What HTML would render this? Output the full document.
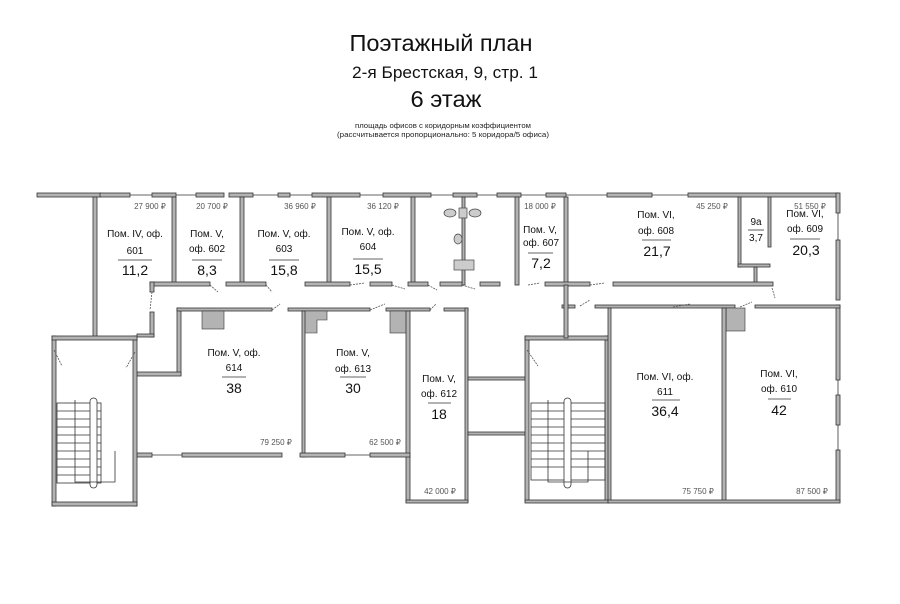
<!DOCTYPE html>
<html><head><meta charset="utf-8"><style>
html,body{margin:0;padding:0;background:#fff;}
svg{display:block;font-family:"Liberation Sans","DejaVu Sans",sans-serif;}
.w{fill:#b3b3b3;stroke:#333;stroke-width:0.8}
.b{fill:#b3b3b3;stroke:#333;stroke-width:0.6}
.t{font-size:10px;fill:#111;text-anchor:middle}
.n{font-size:14px;fill:#111;text-anchor:middle}
.p{font-size:8px;fill:#555;text-anchor:middle}
.d{stroke:#555;stroke-width:0.8;stroke-dasharray:2 1;fill:none}
.s{stroke:#333;stroke-width:0.8;fill:none}
</style></head><body>
<svg width="900" height="604" viewBox="0 0 900 604">
<text x="441" y="51" font-size="23" text-anchor="middle" fill="#111" textLength="183" lengthAdjust="spacingAndGlyphs">Поэтажный план</text>
<text x="445" y="78" font-size="16.5" text-anchor="middle" fill="#111" textLength="186" lengthAdjust="spacingAndGlyphs">2-я Брестская, 9, стр. 1</text>
<text x="446" y="107" font-size="23" text-anchor="middle" fill="#111" textLength="71" lengthAdjust="spacingAndGlyphs">6 этаж</text>
<text x="443" y="128" font-size="7.5" text-anchor="middle" fill="#222" textLength="176" lengthAdjust="spacingAndGlyphs">площадь офисов с коридорным коэффициентом</text>
<text x="443" y="137" font-size="7.5" text-anchor="middle" fill="#222" textLength="212" lengthAdjust="spacingAndGlyphs">(рассчитывается пропорционально: 5 коридора/5 офиса)</text>

<!-- top exterior wall segments -->
<rect class="w" x="37" y="193" width="64" height="4"/>
<rect class="w" x="100" y="193" width="30" height="4"/>
<rect class="w" x="152" y="193" width="24" height="4"/>
<rect class="w" x="196" y="193" width="28" height="4"/>
<rect class="w" x="229" y="193" width="24" height="4"/>
<rect class="w" x="278" y="193" width="12" height="4"/>
<rect class="w" x="312" y="193" width="48" height="4"/>
<rect class="w" x="383" y="193" width="48" height="4"/>
<rect class="w" x="453" y="193" width="24" height="4"/>
<rect class="w" x="497" y="193" width="24" height="4"/>
<rect class="w" x="546" y="193" width="20" height="4"/>
<rect class="w" x="607" y="193" width="45" height="4"/>
<rect class="w" x="688" y="193" width="150" height="4"/>
<line class="s" x1="130" y1="195" x2="152" y2="195"/><line class="s" x1="176" y1="195" x2="196" y2="195"/>
<line class="s" x1="253" y1="195" x2="278" y2="195"/><line class="s" x1="290" y1="195" x2="312" y2="195"/>
<line class="s" x1="360" y1="195" x2="383" y2="195"/><line class="s" x1="431" y1="195" x2="453" y2="195"/>
<line class="s" x1="477" y1="195" x2="497" y2="195"/><line class="s" x1="521" y1="195" x2="546" y2="195"/>
<line class="s" x1="566" y1="195" x2="607" y2="195"/><line class="s" x1="652" y1="195" x2="688" y2="195"/>
<!-- right exterior -->
<rect class="w" x="836" y="193" width="4" height="20"/>
<rect class="w" x="836" y="240" width="4" height="60"/>
<rect class="w" x="836" y="305" width="4" height="75"/>
<rect class="w" x="836" y="395" width="4" height="30"/>
<rect class="w" x="836" y="450" width="4" height="52"/>
<line class="s" x1="838" y1="213" x2="838" y2="240"/><line class="s" x1="838" y1="380" x2="838" y2="395"/><line class="s" x1="838" y1="425" x2="838" y2="450"/>

<!-- top room dividers -->
<rect class="w" x="93" y="197" width="4" height="140"/>
<rect class="w" x="172" y="197" width="4" height="88"/>
<rect class="w" x="240" y="197" width="4" height="88"/>
<rect class="w" x="327" y="197" width="4" height="88"/>
<rect class="w" x="411" y="197" width="4" height="88"/>
<rect class="w" x="462" y="197" width="3" height="88"/>
<rect class="w" x="515" y="197" width="4" height="88"/>
<rect class="w" x="564" y="197" width="4" height="88"/>
<rect class="w" x="738" y="197" width="3" height="70"/>
<rect class="w" x="738" y="264" width="32" height="3"/>
<rect class="w" x="768" y="197" width="3" height="50"/>
<rect class="w" x="754" y="267" width="3" height="17"/>
<!-- top rooms bottom wall -->
<rect class="w" x="150" y="282" width="60" height="4"/>
<rect class="w" x="226" y="282" width="40" height="4"/>
<rect class="w" x="305" y="282" width="45" height="4"/>
<rect class="w" x="370" y="282" width="22" height="4"/>
<rect class="w" x="408" y="282" width="20" height="4"/>
<rect class="w" x="440" y="282" width="22" height="4"/>
<rect class="w" x="480" y="282" width="20" height="4"/>
<rect class="w" x="545" y="282" width="45" height="4"/>
<rect class="w" x="613" y="282" width="160" height="4"/>
<line class="d" x1="210" y1="285" x2="218" y2="292"/><line class="d" x1="266" y1="285" x2="272" y2="292"/>
<line class="d" x1="350" y1="285" x2="365" y2="283"/><line class="d" x1="392" y1="285" x2="405" y2="289"/>
<line class="d" x1="428" y1="285" x2="437" y2="290"/><line class="d" x1="462" y1="285" x2="475" y2="289"/>
<line class="d" x1="528" y1="285" x2="540" y2="283"/><line class="d" x1="590" y1="285" x2="605" y2="283"/>
<line class="d" x1="772" y1="288" x2="775" y2="298"/>
<!-- left corridor jog -->
<rect class="w" x="150" y="282" width="4" height="10"/>
<rect class="w" x="150" y="312" width="4" height="25"/>
<rect class="w" x="137" y="334" width="17" height="3"/>
<line class="d" x1="152" y1="292" x2="150" y2="310"/>
<!-- corridor lower wall -->
<rect class="w" x="177" y="308" width="4" height="67"/>
<rect class="w" x="137" y="372" width="44" height="4"/>
<rect class="w" x="177" y="308" width="95" height="3"/>
<rect class="w" x="288" y="308" width="82" height="3"/>
<rect class="w" x="386" y="308" width="44" height="3"/>
<rect class="w" x="444" y="308" width="24" height="3"/>
<rect class="w" x="562" y="305" width="13" height="3"/>
<rect class="w" x="595" y="305" width="140" height="3"/>
<rect class="w" x="755" y="305" width="85" height="3"/>
<line class="d" x1="272" y1="310" x2="280" y2="304"/><line class="d" x1="370" y1="310" x2="385" y2="304"/>
<line class="d" x1="430" y1="310" x2="436" y2="304"/><line class="d" x1="580" y1="306" x2="590" y2="300"/>
<line class="d" x1="673" y1="307" x2="690" y2="304"/><line class="d" x1="740" y1="307" x2="752" y2="302"/>
<!-- columns -->
<rect class="b" x="202" y="311" width="22" height="18"/>
<path class="b" d="M303 311 H327 V320 H317 V333 H303 Z"/>
<rect class="b" x="390" y="311" width="18" height="22"/>
<rect class="b" x="726" y="308" width="19" height="23"/>
<!-- 614 / 613 / 612 -->
<rect class="w" x="302" y="311" width="3" height="146"/>
<rect class="w" x="406" y="311" width="4" height="191"/>
<rect class="w" x="465" y="308" width="3" height="194"/>
<rect class="w" x="137" y="453" width="15" height="4"/>
<rect class="w" x="182" y="453" width="100" height="4"/>
<rect class="w" x="300" y="453" width="45" height="4"/>
<rect class="w" x="370" y="453" width="40" height="4"/>
<line class="s" x1="152" y1="455" x2="182" y2="455"/><line class="s" x1="345" y1="455" x2="370" y2="455"/>
<rect class="w" x="406" y="500" width="62" height="3"/>
<!-- middle shaft walls -->
<rect class="w" x="468" y="377" width="57" height="3"/>
<rect class="w" x="468" y="432" width="57" height="3"/>
<!-- left stair -->
<rect class="w" x="52" y="336" width="4" height="170"/>
<rect class="w" x="133" y="336" width="4" height="170"/>
<rect class="w" x="52" y="336" width="85" height="4"/>
<rect class="w" x="52" y="502" width="85" height="4"/>
<line class="d" x1="54" y1="350" x2="62" y2="366"/><line class="d" x1="135" y1="352" x2="126" y2="368"/>
<g class="s">
<rect x="57" y="403" width="44" height="80"/>
<line x1="57" y1="411" x2="101" y2="411"/><line x1="57" y1="419" x2="101" y2="419"/><line x1="57" y1="427" x2="101" y2="427"/>
<line x1="57" y1="435" x2="101" y2="435"/><line x1="57" y1="443" x2="101" y2="443"/><line x1="57" y1="451" x2="101" y2="451"/>
<line x1="57" y1="459" x2="101" y2="459"/><line x1="57" y1="467" x2="101" y2="467"/><line x1="57" y1="475" x2="101" y2="475"/>
<rect x="90" y="398" width="7" height="90" rx="3.5" fill="#fff"/>
<path d="M75 400 V482 H115 V451"/>
</g>
<!-- right stair -->
<rect class="w" x="525" y="336" width="4" height="166"/>
<rect class="w" x="605" y="336" width="4" height="166"/>
<rect class="w" x="525" y="336" width="84" height="4"/>
<rect class="w" x="525" y="500" width="84" height="3"/>
<rect class="w" x="564" y="285" width="4" height="53"/>
<line class="d" x1="527" y1="350" x2="538" y2="366"/>
<g class="s">
<rect x="531" y="403" width="74" height="77"/>
<line x1="531" y1="411" x2="605" y2="411"/><line x1="531" y1="419" x2="605" y2="419"/><line x1="531" y1="427" x2="605" y2="427"/>
<line x1="531" y1="435" x2="605" y2="435"/><line x1="531" y1="443" x2="605" y2="443"/><line x1="531" y1="451" x2="605" y2="451"/>
<line x1="531" y1="459" x2="605" y2="459"/><line x1="531" y1="467" x2="605" y2="467"/>
<rect x="564" y="398" width="7" height="90" rx="3.5" fill="#fff"/>
<path d="M548 400 V482 H588 V451"/>
</g>
<!-- right rooms -->
<rect class="w" x="608" y="308" width="3" height="194"/>
<rect class="w" x="722" y="308" width="4" height="194"/>
<rect class="w" x="608" y="500" width="232" height="3"/>
<!-- toilet symbols -->
<g fill="#ccc" stroke="#444" stroke-width="0.7">
<ellipse cx="450" cy="213" rx="6" ry="4"/><ellipse cx="475" cy="213" rx="6" ry="4"/>
<rect x="459" y="208" width="8" height="10"/>
<ellipse cx="458" cy="239" rx="4" ry="5"/>
<rect x="454" y="260" width="20" height="10"/>
</g>

<!-- labels -->
<text class="p" x="150" y="209">27 900 ₽</text>
<text class="p" x="212" y="209">20 700 ₽</text>
<text class="p" x="300" y="209">36 960 ₽</text>
<text class="p" x="383" y="209">36 120 ₽</text>
<text class="p" x="540" y="209">18 000 ₽</text>
<text class="p" x="712" y="209">45 250 ₽</text>
<text class="p" x="810" y="209">51 550 ₽</text>
<text class="p" x="276" y="445">79 250 ₽</text>
<text class="p" x="385" y="445">62 500 ₽</text>
<text class="p" x="440" y="494">42 000 ₽</text>
<text class="p" x="698" y="494">75 750 ₽</text>
<text class="p" x="812" y="494">87 500 ₽</text>

<text class="t" x="135" y="237">Пом. IV, оф.</text><text class="t" x="135" y="254">601</text>
<line class="s" x1="118" y1="260" x2="152" y2="260"/><text class="n" x="135" y="275">11,2</text>
<text class="t" x="207" y="237" font-size="9">Пом. V,</text><text class="t" x="207" y="252" font-size="9">оф. 602</text>
<line class="s" x1="192" y1="260" x2="222" y2="260"/><text class="n" x="207" y="275">8,3</text>
<text class="t" x="284" y="237" font-size="9">Пом. V, оф.</text><text class="t" x="284" y="252" font-size="9">603</text>
<line class="s" x1="269" y1="260" x2="299" y2="260"/><text class="n" x="284" y="275">15,8</text>
<text class="t" x="368" y="235" font-size="9">Пом. V, оф.</text><text class="t" x="368" y="250" font-size="9">604</text>
<line class="s" x1="353" y1="259" x2="383" y2="259"/><text class="n" x="368" y="274">15,5</text>
<text class="t" x="540" y="233" font-size="8">Пом. V,</text><text class="t" x="541" y="246" font-size="8">оф. 607</text>
<line class="s" x1="528" y1="253" x2="553" y2="253"/><text class="n" x="541" y="268">7,2</text>
<text class="t" x="656" y="218">Пом. VI,</text><text class="t" x="656" y="234">оф. 608</text>
<line class="s" x1="642" y1="240" x2="671" y2="240"/><text class="n" x="657" y="256">21,7</text>
<text class="t" x="756" y="225" font-size="8">9а</text>
<line class="s" x1="748" y1="230" x2="764" y2="230"/><text class="t" x="756" y="241" font-size="8">3,7</text>
<text class="t" x="805" y="217">Пом. VI,</text><text class="t" x="805" y="232">оф. 609</text>
<line class="s" x1="790" y1="239" x2="820" y2="239"/><text class="n" x="806" y="255">20,3</text>
<text class="t" x="234" y="356" font-size="9">Пом. V, оф.</text><text class="t" x="234" y="371" font-size="9">614</text>
<line class="s" x1="222" y1="377" x2="246" y2="377"/><text class="n" x="234" y="393">38</text>
<text class="t" x="353" y="356" font-size="9">Пом. V,</text><text class="t" x="353" y="372" font-size="9">оф. 613</text>
<line class="s" x1="340" y1="377" x2="366" y2="377"/><text class="n" x="353" y="393">30</text>
<text class="t" x="439" y="382" font-size="9">Пом. V,</text><text class="t" x="439" y="397" font-size="9">оф. 612</text>
<line class="s" x1="428" y1="403" x2="451" y2="403"/><text class="n" x="439" y="419">18</text>
<text class="t" x="665" y="380">Пом. VI, оф.</text><text class="t" x="665" y="395">611</text>
<line class="s" x1="652" y1="400" x2="680" y2="400"/><text class="n" x="665" y="416">36,4</text>
<text class="t" x="779" y="377">Пом. VI,</text><text class="t" x="779" y="392">оф. 610</text>
<line class="s" x1="768" y1="399" x2="791" y2="399"/><text class="n" x="779" y="415">42</text>
</svg>
</body></html>
